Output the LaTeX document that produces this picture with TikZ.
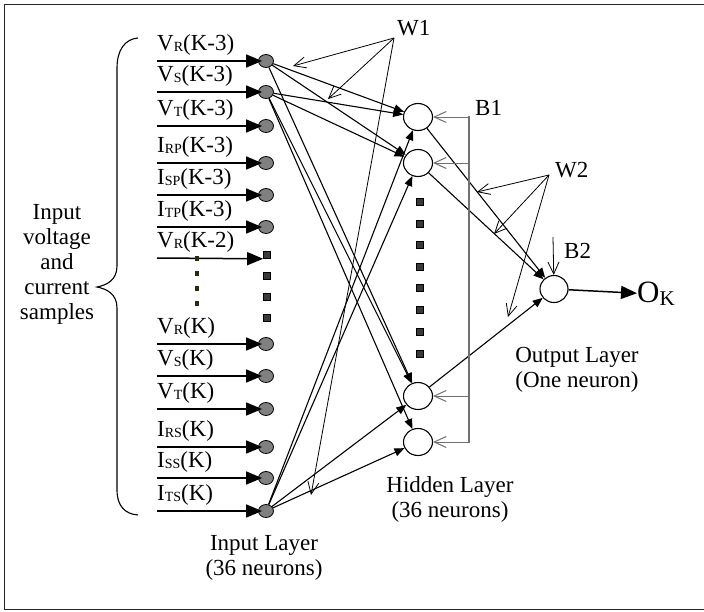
\documentclass[tikz,border=0pt]{standalone}
\usepackage{fontspec}
\setmainfont{Liberation Serif}
\usetikzlibrary{arrows.meta,shapes.geometric}
\definecolor{nodegray}{HTML}{808080}
\definecolor{sqgray}{HTML}{3A3A3A}
\definecolor{busgray}{HTML}{707070}
\definecolor{dotolive}{HTML}{2A2A10}
% small lowered subscript used in the signal names
\newcommand\lsub[1]{\raisebox{-1.5pt}{\fontsize{14}{14}\selectfont #1}}
\begin{document}
\begin{tikzpicture}[x=1pt,y=-1pt]
\tikzset{
 innode/.style={ellipse, draw, line width=0.8pt, fill=nodegray, minimum width=15pt, minimum height=13pt, inner sep=0pt},
 hidnode/.style={ellipse, draw, line width=1.1pt, fill=white, minimum width=29pt, minimum height=27pt, inner sep=0pt},
 bigsq/.style={rectangle, draw, line width=0.6pt, fill=sqgray, minimum size=7pt, inner sep=0pt},
 tinysq/.style={rectangle, fill=dotolive, minimum width=4pt, minimum height=5pt, inner sep=0pt},
 feed/.style={line width=1.5pt, -{Triangle[width=13pt,length=16pt]}},
 link/.style={line width=1.1pt, -{Triangle[width=8pt,length=10pt]}},
 pointer/.style={line width=0.8pt, -{Straight Barb[width=11pt,length=12pt]}},
 busline/.style={line width=1.4pt, draw=busgray},
 busarrow/.style={line width=1.0pt, draw=busgray, -{Straight Barb[width=11pt,length=12pt]}},
 txt/.style={font=\fontsize{23}{25}\selectfont, inner sep=0pt},
}
\useasboundingbox (0,0) rectangle (704,611);

% outer frame (open on the right)
\draw[line width=1.8pt, black!85] (705,4.5) -- (4.5,4.5) -- (4.5,609.5) -- (705,609.5);

% input neurons with their feeding arrows and signal names
\foreach \y/\t [count=\i] in {61/{V\lsub{R}(K-3)}, 92/{V\lsub{S}(K-3)}, 126/{V\lsub{T}(K-3)},
   163/{I\lsub{RP}(K-3)}, 195/{I\lsub{SP}(K-3)}, 227/{I\lsub{TP}(K-3)},
   344/{V\lsub{R}(K)}, 376/{V\lsub{S}(K)}, 409/{V\lsub{T}(K)},
   447/{I\lsub{RS}(K)}, 478/{I\lsub{SS}(K)}, 511/{I\lsub{TS}(K)}}{
  \coordinate (s\i) at (157,\y);
  \node[innode] (in\i) at (266,\y) {};
  \node[txt, anchor=base west] (lab\i) at (157,\y-11) {\t};
  \draw[feed, shorten >=-4pt] (s\i) -- (in\i);
}

% elided input rows
\coordinate (s0) at (157,258);
\node[bigsq] (isq1) at (267,255) {};
\node[bigsq] (isq2) at (267,276) {};
\node[bigsq] (isq3) at (267,297) {};
\node[bigsq] (isq4) at (267,318) {};
\node[txt, anchor=base west] (lab0) at (157,247) {V\lsub{R}(K-2)};
\draw[feed] (s0) -- (isq1.south west);
\foreach \y [count=\i] in {258,273,288,303}
  \node[tinysq] (ld\i) at (197,\y) {};

% brace and its caption
\draw[line width=1.1pt] (138,38) .. controls (125,39) and (117,50) .. (117,68)
  -- (117,266) .. controls (117,280) and (107,285) .. (97,287)
  .. controls (107,289) and (117,294) .. (117,308)
  -- (117,490) .. controls (117,506) and (125,514) .. (138,515);
\node[txt, align=center] (cap) at (57,264) {Input\\voltage\\and\\current\\samples};

% hidden layer
\node[hidnode] (h1) at (418,117) {};
\node[hidnode] (h2) at (418,163) {};
\node[hidnode] (h3) at (418,396) {};
\node[hidnode] (h4) at (418,442) {};
\foreach \y [count=\i] in {202,224,245,267,288,310,332,354}
  \node[bigsq] (hsq\i) at (420,\y) {};

% output neuron
\node[hidnode, minimum width=28pt] (out) at (554,289) {};
\node[txt, anchor=base west] (ok) at (637,302) {\fontsize{31}{31}\selectfont O\raisebox{-3pt}{\fontsize{21}{21}\selectfont K}};
\draw[feed] (out) -- (ok.west);

% input-to-hidden weights
\foreach \h in {h1,h2,h3} \draw[link] (in1) -- (\h);
\foreach \h in {h1,h2,h3,h4} \draw[link] (in2) -- (\h);
\foreach \h in {h1,h2,h3,h4} \draw[link] (in12) -- (\h);

% hidden-to-output weights
\foreach \h in {h1,h2,h3} \draw[link] (\h) -- (out);

% bias bus B1
\coordinate (b1a) at (469,117);
\coordinate (b1b) at (469,163);
\coordinate (b1c) at (469,396);
\coordinate (b1d) at (469,442);
\draw[busline] (469,116) -- (469,443);
\foreach \c/\h in {b1a/h1,b1b/h2,b1c/h3,b1d/h4} \draw[busarrow] (\c) -- (\h);
\node[txt, anchor=base west] (b1lab) at (475,115) {B1};

% bias B2
\coordinate (b2s) at (553,237);
\draw[pointer] (b2s) -- (out);
\node[txt, anchor=base west] (b2lab) at (564,258) {B2};

% weight pointers W1
\coordinate (w1) at (394,38);
\coordinate (w1a) at (293,66);
\coordinate (w1b) at (328,99);
\coordinate (w1c) at (311,495);
\node[txt, anchor=base west] (w1lab) at (397,35) {W1};
\foreach \c in {w1a,w1b,w1c} \draw[pointer] (w1) -- (\c);

% weight pointers W2
\coordinate (w2) at (549,175);
\coordinate (w2a) at (477,192);
\coordinate (w2b) at (494,234);
\coordinate (w2c) at (508,317);
\node[txt, anchor=base west] (w2lab) at (555,177) {W2};
\foreach \c in {w2a,w2b,w2c} \draw[pointer] (w2) -- (\c);

% layer captions
\node[txt, align=center] (inlay) at (264,558) {Input Layer\\(36 neurons)};
\node[txt, align=center] (hidlay) at (450,499) {Hidden Layer\\(36 neurons)};
\node[txt, align=center] (outlay) at (577,370) {Output Layer\\(One neuron)};
\end{tikzpicture}
\end{document}
